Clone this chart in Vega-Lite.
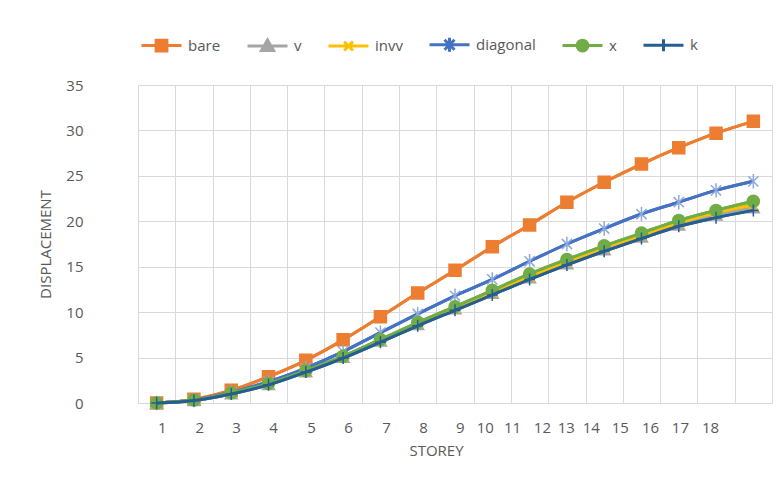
{
  "$schema": "https://vega.github.io/schema/vega-lite/v6.json",
  "autosize": {"type": "none"},
  "width": 634,
  "height": 318,
  "padding": {"left": 138, "top": 85, "right": 11, "bottom": 81},
  "background": "white",
  "config": {
    "view": {"stroke": null},
    "font": "Open Sans",
    "axis": {"labelFont": "Open Sans", "titleFont": "Open Sans", "labelColor": "#595959", "titleColor": "#595959", "labelFontSize": 15, "titleFontSize": 15, "titleFontWeight": "normal", "gridColor": "#D9D9D9", "gridWidth": 1},
    "line": {"interpolate": "monotone", "strokeWidth": 3},
    "point": {"filled": true, "opacity": 1, "size": 144, "strokeWidth": 1.5}
  },
  "data": {
    "values": [
      {"storey": 1, "bare": 0, "v": 0, "invv": 0, "diagonal": 0, "x": 0, "k": 0},
      {"storey": 2, "bare": 0.4, "v": 0.3, "invv": 0.3, "diagonal": 0.32, "x": 0.32, "k": 0.28},
      {"storey": 3, "bare": 1.4, "v": 1.05, "invv": 1.08, "diagonal": 1.2, "x": 1.12, "k": 1.0},
      {"storey": 4, "bare": 2.9, "v": 2.05, "invv": 2.1, "diagonal": 2.35, "x": 2.15, "k": 2.0},
      {"storey": 5, "bare": 4.7, "v": 3.45, "invv": 3.5, "diagonal": 3.85, "x": 3.55, "k": 3.4},
      {"storey": 6, "bare": 6.95, "v": 5.05, "invv": 5.1, "diagonal": 5.65, "x": 5.15, "k": 4.95},
      {"storey": 7, "bare": 9.5, "v": 6.85, "invv": 6.9, "diagonal": 7.75, "x": 7.0, "k": 6.7},
      {"storey": 8, "bare": 12.1, "v": 8.65, "invv": 8.75, "diagonal": 9.8, "x": 8.85, "k": 8.5},
      {"storey": 9, "bare": 14.6, "v": 10.4, "invv": 10.45, "diagonal": 11.8, "x": 10.6, "k": 10.2},
      {"storey": 10, "bare": 17.2, "v": 12.1, "invv": 12.2, "diagonal": 13.6, "x": 12.4, "k": 11.9},
      {"storey": 11, "bare": 19.6, "v": 13.8, "invv": 13.9, "diagonal": 15.6, "x": 14.2, "k": 13.6},
      {"storey": 12, "bare": 22.1, "v": 15.35, "invv": 15.5, "diagonal": 17.5, "x": 15.8, "k": 15.2},
      {"storey": 13, "bare": 24.3, "v": 16.9, "invv": 17.05, "diagonal": 19.2, "x": 17.3, "k": 16.7},
      {"storey": 14, "bare": 26.3, "v": 18.3, "invv": 18.45, "diagonal": 20.8, "x": 18.7, "k": 18.1},
      {"storey": 15, "bare": 28.1, "v": 19.6, "invv": 19.8, "diagonal": 22.1, "x": 20.1, "k": 19.45},
      {"storey": 16, "bare": 29.7, "v": 20.7, "invv": 20.95, "diagonal": 23.4, "x": 21.2, "k": 20.4},
      {"storey": 17, "bare": 31.0, "v": 21.5, "invv": 21.8, "diagonal": 24.4, "x": 22.2, "k": 21.2}
    ]
  },
  "transform": [
    {"fold": ["bare", "v", "invv", "diagonal", "x", "k"], "as": ["series", "value"]}
  ],
  "resolve": {"axis": {"x": "independent"}},
  "encoding": {
    "x": {"field": "storey", "type": "quantitative", "scale": {"domain": [0.5, 17.5], "nice": false, "zero": false}, "axis": null},
    "y": {
      "field": "value", "type": "quantitative",
      "scale": {"domain": [0, 35], "nice": false},
      "axis": {"values": [0, 5, 10, 15, 20, 25, 30, 35], "grid": true, "ticks": false, "domain": false, "labelPadding": 55, "title": "DISPLACEMENT", "titlePadding": 12}
    }
  },
  "layer": [
    {
      "mark": "line",
      "encoding": {
        "x": {
          "field": "storey", "type": "quantitative",
          "scale": {"domain": [0.5, 17.5], "nice": false, "zero": false},
          "axis": {"orient": "bottom", "values": [0.5, 1.5, 2.5, 3.5, 4.5, 5.5, 6.5, 7.5, 8.5, 9.5, 10.5, 11.5, 12.5, 13.5, 14.5, 15.5, 16.5, 17.5], "grid": true, "labels": false, "ticks": false, "domain": false, "title": null}
        },
        "color": {
          "field": "series", "type": "nominal",
          "scale": {"domain": ["bare", "v", "invv", "diagonal", "x", "k"], "range": ["#ED7D31", "#A5A5A5", "#FFC000", "#4472C4", "#70AD47", "#255E91"]},
          "legend": {
            "orient": "none", "legendX": 2, "legendY": -62, "direction": "horizontal", "title": null,
            "padding": 0, "symbolSize": 1600, "symbolStrokeWidth": 3, "labelFont": "Open Sans", "labelFontSize": 15, "labelColor": "#595959", "labelOffset": 5, "columnPadding": 20,
            "symbolType": {"expr": "datum.value === 'bare' ? 'M-1,0H1M-0.27,-0.27H0.27V0.27H-0.27Z' : datum.value === 'v' ? 'M-1,0H1M0,-0.3L0.3,0.22H-0.3Z' : datum.value === 'invv' ? 'M-1,0H1M-0.22,-0.22L0.22,0.22M-0.22,0.22L0.22,-0.22' : datum.value === 'diagonal' ? 'M-1,0H1M-0.25,-0.25L0.25,0.25M-0.25,0.25L0.25,-0.25M0,-0.35V0.35' : datum.value === 'x' ? 'M-1,0H1M0.27,0A0.27,0.27 0 1 1 -0.27,0A0.27,0.27 0 1 1 0.27,0Z' : 'M-1,0H1M0,-0.3V0.3'"},
            "symbolFillColor": {"expr": "scale('color', datum.value)"}
          }
        }
      }
    },
    {
      "transform": [{"filter": "datum.series === 'bare'"}],
      "layer": [
        {"mark": {"type": "line", "color": "#ED7D31"}},
        {"mark": {"type": "point", "shape": "square", "fill": "#ED7D31", "stroke": "#ED7D31"}}
      ]
    },
    {
      "transform": [{"filter": "datum.series === 'v'"}],
      "layer": [
        {"mark": {"type": "line", "color": "#A5A5A5"}},
        {"mark": {"type": "point", "shape": "triangle-up", "fill": "#A5A5A5", "stroke": "#A5A5A5"}}
      ]
    },
    {
      "transform": [{"filter": "datum.series === 'invv'"}],
      "layer": [
        {"mark": {"type": "line", "color": "#FFC000"}},
        {"mark": {"type": "point", "shape": "M-0.8,-0.8L0.8,0.8M-0.8,0.8L0.8,-0.8", "fill": "#FFC000", "stroke": "#FFC000"}}
      ]
    },
    {
      "transform": [{"filter": "datum.series === 'diagonal'"}],
      "layer": [
        {"mark": {"type": "line", "color": "#4472C4"}},
        {"mark": {"type": "point", "shape": "M-0.85,-0.85L0.85,0.85M-0.85,0.85L0.85,-0.85M0,-1.2V1.2", "fill": "#8EA9DB", "stroke": "#8EA9DB"}}
      ]
    },
    {
      "transform": [{"filter": "datum.series === 'x'"}],
      "layer": [
        {"mark": {"type": "line", "color": "#70AD47"}},
        {"mark": {"type": "point", "shape": "circle", "fill": "#70AD47", "stroke": "#70AD47"}}
      ]
    },
    {
      "transform": [{"filter": "datum.series === 'k'"}],
      "layer": [
        {"mark": {"type": "line", "color": "#255E91"}},
        {"mark": {"type": "point", "shape": "M-0.9,0H0.9M0,-1V1", "fill": "#255E91", "stroke": "#255E91"}}
      ]
    },
    {
      "mark": {"type": "point", "opacity": 0, "size": 1},
      "encoding": {
        "x": {
          "field": "storey", "type": "quantitative",
          "scale": {"domain": [0.5, 17.5], "nice": false, "zero": false},
          "axis": {"orient": "bottom", "values": [1.14, 2.14, 3.13, 4.12, 5.14, 6.13, 7.15, 8.14, 9.13, 9.8, 10.53, 11.33, 11.97, 12.64, 13.42, 14.23, 15.03, 15.84], "labelExpr": "'' + (indexof([1.14, 2.14, 3.13, 4.12, 5.14, 6.13, 7.15, 8.14, 9.13, 9.8, 10.53, 11.33, 11.97, 12.64, 13.42, 14.23, 15.03, 15.84], datum.value) + 1)", "grid": false, "ticks": false, "domain": false, "labelPadding": 17, "title": "STOREY", "titlePadding": 8, "titleX": 298}
        }
      }
    }
  ]
}
